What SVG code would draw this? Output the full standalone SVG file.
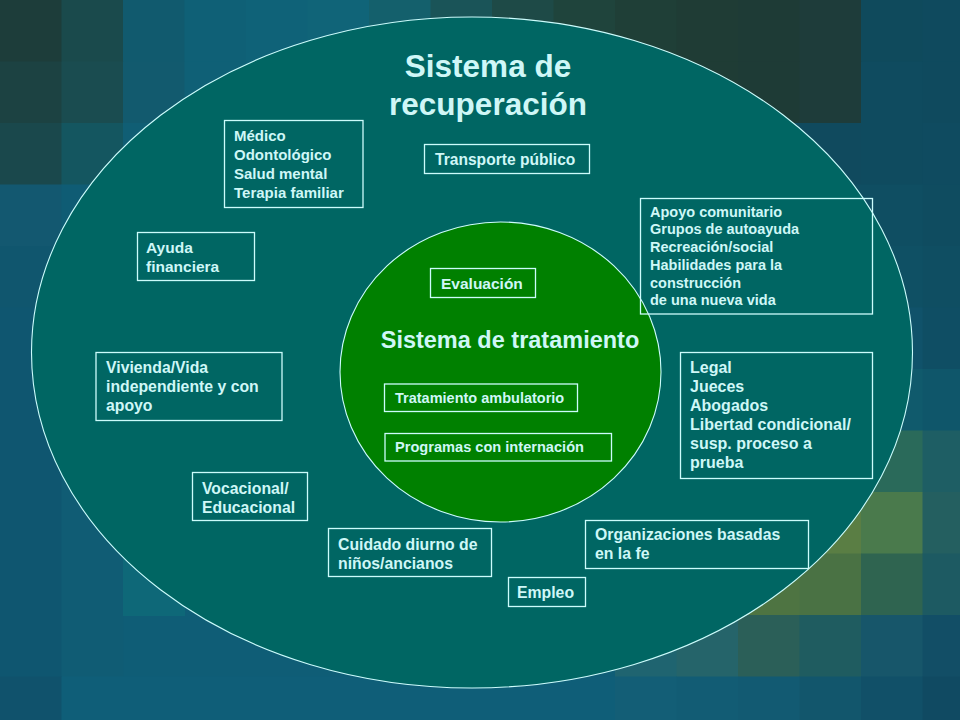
<svg xmlns="http://www.w3.org/2000/svg" width="960" height="720" viewBox="0 0 960 720">
<style>
.box{fill:none;stroke:#ccfcfc;stroke-width:1.3}
.t{font-family:"Liberation Sans",Arial,sans-serif;font-weight:bold;fill:#cff7f7}
.ring{stroke:#ccfcfc;stroke-width:1.1}
</style>
<g id="background">
<rect x="0" y="0" width="960" height="720" fill="#0f5d76"/>
<rect x="0" y="0" width="62" height="62" fill="#1d3d3a"/>
<rect x="61.5" y="0" width="62" height="62" fill="#1a4a4c"/>
<rect x="123" y="0" width="62" height="62" fill="#115a6e"/>
<rect x="184.5" y="0" width="62" height="62" fill="#0f6076"/>
<rect x="246" y="0" width="62" height="62" fill="#0f6278"/>
<rect x="307.5" y="0" width="62" height="62" fill="#106478"/>
<rect x="369" y="0" width="62" height="62" fill="#14606c"/>
<rect x="430.5" y="0" width="62" height="62" fill="#1a5458"/>
<rect x="492" y="0" width="62" height="62" fill="#1e4a47"/>
<rect x="553.5" y="0" width="62" height="62" fill="#1f443c"/>
<rect x="615" y="0" width="62" height="62" fill="#1f3f37"/>
<rect x="676.5" y="0" width="62" height="62" fill="#1f3c35"/>
<rect x="738" y="0" width="62" height="62" fill="#1e3b36"/>
<rect x="799.5" y="0" width="62" height="62" fill="#1e3c3a"/>
<rect x="861" y="0" width="62" height="62" fill="#0f4a5c"/>
<rect x="922.5" y="0" width="40" height="62" fill="#0f4a5e"/>
<rect x="0" y="61.5" width="62" height="62" fill="#1c4242"/>
<rect x="61.5" y="61.5" width="62" height="62" fill="#1a4c50"/>
<rect x="123" y="61.5" width="62" height="62" fill="#125a6e"/>
<rect x="184.5" y="61.5" width="62" height="62" fill="#0f6076"/>
<rect x="246" y="61.5" width="62" height="62" fill="#0f6278"/>
<rect x="307.5" y="61.5" width="62" height="62" fill="#106478"/>
<rect x="553.5" y="61.5" width="62" height="62" fill="#1f443c"/>
<rect x="615" y="61.5" width="62" height="62" fill="#1f3f37"/>
<rect x="676.5" y="61.5" width="62" height="62" fill="#1f3c35"/>
<rect x="738" y="61.5" width="62" height="62" fill="#1e3b36"/>
<rect x="799.5" y="61.5" width="62" height="62" fill="#1e3c3a"/>
<rect x="861" y="61.5" width="62" height="62" fill="#0f4b5f"/>
<rect x="922.5" y="61.5" width="40" height="62" fill="#0f4a5e"/>
<rect x="0" y="123" width="62" height="62" fill="#1a484c"/>
<rect x="61.5" y="123" width="62" height="62" fill="#145660"/>
<rect x="123" y="123" width="62" height="62" fill="#105e74"/>
<rect x="676.5" y="123" width="62" height="62" fill="#1e3c36"/>
<rect x="738" y="123" width="62" height="62" fill="#104a5e"/>
<rect x="799.5" y="123" width="62" height="62" fill="#104a5e"/>
<rect x="861" y="123" width="62" height="62" fill="#0f4b5f"/>
<rect x="922.5" y="123" width="40" height="62" fill="#0f4b60"/>
<rect x="0" y="184.5" width="62" height="62" fill="#135870"/>
<rect x="61.5" y="184.5" width="62" height="62" fill="#0f5c74"/>
<rect x="0" y="246" width="62" height="62" fill="#10566e"/>
<rect x="0" y="307.5" width="62" height="370" fill="#0f5670"/>
<rect x="61.5" y="307.5" width="62" height="370" fill="#105c74"/>
<rect x="123" y="492" width="62" height="124" fill="#0e6878"/>
<rect x="799.5" y="184.5" width="62" height="62" fill="#0f4e62"/>
<rect x="861" y="184.5" width="62" height="62" fill="#0f4e62"/>
<rect x="922.5" y="184.5" width="40" height="62" fill="#0f4c60"/>
<rect x="861" y="246" width="62" height="62" fill="#0f5064"/>
<rect x="922.5" y="246" width="40" height="62" fill="#0f4e62"/>
<rect x="861" y="307.5" width="62" height="62" fill="#10526a"/>
<rect x="922.5" y="307.5" width="40" height="62" fill="#0f4e64"/>
<rect x="861" y="369" width="62" height="62" fill="#105a6c"/>
<rect x="922.5" y="369" width="40" height="62" fill="#0f566a"/>
<rect x="799.5" y="430.5" width="62" height="62" fill="#2a6658"/>
<rect x="861" y="430.5" width="62" height="62" fill="#2a6a5a"/>
<rect x="922.5" y="430.5" width="40" height="62" fill="#1e5e64"/>
<rect x="738" y="492" width="62" height="62" fill="#4a7646"/>
<rect x="799.5" y="492" width="62" height="62" fill="#5a7e44"/>
<rect x="861" y="492" width="62" height="62" fill="#4a7a4c"/>
<rect x="922.5" y="492" width="40" height="62" fill="#245f60"/>
<rect x="676.5" y="553.5" width="62" height="62" fill="#2c6458"/>
<rect x="738" y="553.5" width="62" height="62" fill="#4e7442"/>
<rect x="799.5" y="553.5" width="62" height="62" fill="#4a7244"/>
<rect x="861" y="553.5" width="62" height="62" fill="#2f6450"/>
<rect x="922.5" y="553.5" width="40" height="62" fill="#1d5a62"/>
<rect x="615" y="615" width="62" height="62" fill="#1f6470"/>
<rect x="676.5" y="615" width="62" height="62" fill="#25646a"/>
<rect x="738" y="615" width="62" height="62" fill="#2b5f58"/>
<rect x="799.5" y="615" width="62" height="62" fill="#1f5c60"/>
<rect x="861" y="615" width="62" height="62" fill="#17566a"/>
<rect x="922.5" y="615" width="40" height="62" fill="#124e66"/>
<rect x="0" y="676.5" width="62" height="45" fill="#10526c"/>
<rect x="61.5" y="676.5" width="553.5" height="45" fill="#0f5e78"/>
<rect x="615" y="676.5" width="62" height="45" fill="#135e76"/>
<rect x="676.5" y="676.5" width="62" height="45" fill="#125c74"/>
<rect x="738" y="676.5" width="62" height="45" fill="#125a72"/>
<rect x="799.5" y="676.5" width="62" height="45" fill="#12566c"/>
<rect x="861" y="676.5" width="62" height="45" fill="#115068"/>
<rect x="922.5" y="676.5" width="40" height="45" fill="#104a62"/>
</g>
<g id="recovery-system">
<ellipse class="ring" cx="472" cy="352.5" rx="440.5" ry="335.5" fill="#006663"/>
<text class="t" font-size="31.5" text-anchor="middle"><tspan x="488" y="77">Sistema de</tspan><tspan x="488" y="115">recuperación</tspan></text>
</g>
<g id="treatment-system">
<ellipse class="ring" cx="500.5" cy="372" rx="160.5" ry="150" fill="#008000"/>
<text class="t" font-size="23.5" x="510" y="347.5" text-anchor="middle">Sistema de tratamiento</text>
</g>
<g id="connectors"></g>
<g id="node-medico">
<rect class="box" x="224.5" y="120.5" width="138.5" height="87"/>
<text class="t" font-size="15"><tspan x="234" y="140.5">Médico</tspan><tspan x="234" y="159.8">Odontológico</tspan><tspan x="234" y="179.1">Salud mental</tspan><tspan x="234" y="198.4">Terapia familiar</tspan></text>
</g>
<g id="node-transporte">
<rect class="box" x="424.5" y="144.5" width="165" height="29"/>
<text class="t" font-size="15.6" x="435" y="165">Transporte público</text>
</g>
<g id="node-ayuda">
<rect class="box" x="137.5" y="232.5" width="117" height="48"/>
<text class="t" font-size="15.5"><tspan x="146" y="253">Ayuda</tspan><tspan x="146" y="271.7">financiera</tspan></text>
</g>
<g id="node-vivienda">
<rect class="box" x="96" y="352.5" width="186" height="68"/>
<text class="t" font-size="15.8"><tspan x="106" y="372.5">Vivienda/Vida</tspan><tspan x="106" y="391.5">independiente y con</tspan><tspan x="106" y="410.5">apoyo</tspan></text>
</g>
<g id="node-vocacional">
<rect class="box" x="192.5" y="472.5" width="115" height="48"/>
<text class="t" font-size="15.8"><tspan x="202" y="493.5">Vocacional/</tspan><tspan x="202" y="512.5">Educacional</tspan></text>
</g>
<g id="node-cuidado">
<rect class="box" x="328.5" y="528.5" width="163" height="48"/>
<text class="t" font-size="15.8"><tspan x="338" y="549.5">Cuidado diurno de</tspan><tspan x="338" y="568.5">niños/ancianos</tspan></text>
</g>
<g id="node-empleo">
<rect class="box" x="508.5" y="577.5" width="77" height="29"/>
<text class="t" font-size="15.8" x="517" y="597.5">Empleo</text>
</g>
<g id="node-organizaciones">
<rect class="box" x="585.5" y="520.5" width="223" height="48"/>
<text class="t" font-size="15.8"><tspan x="595" y="540">Organizaciones basadas</tspan><tspan x="595" y="559">en la fe</tspan></text>
</g>
<g id="node-apoyo">
<rect class="box" x="640.5" y="198.5" width="232" height="115.5"/>
<text class="t" font-size="14.5"><tspan x="650" y="216.7">Apoyo comunitario</tspan><tspan x="650" y="234.4">Grupos de autoayuda</tspan><tspan x="650" y="252.1">Recreación/social</tspan><tspan x="650" y="269.8">Habilidades para la</tspan><tspan x="650" y="287.5">construcción</tspan><tspan x="650" y="305.2">de una nueva vida</tspan></text>
</g>
<g id="node-legal">
<rect class="box" x="680.5" y="352.5" width="192" height="126"/>
<text class="t" font-size="16"><tspan x="690" y="373.3">Legal</tspan><tspan x="690" y="392.3">Jueces</tspan><tspan x="690" y="411.3">Abogados</tspan><tspan x="690" y="430.3">Libertad condicional/</tspan><tspan x="690" y="449.3">susp. proceso a</tspan><tspan x="690" y="468.3">prueba</tspan></text>
</g>
<g id="node-evaluacion">
<rect class="box" x="430.5" y="268.5" width="105" height="29"/>
<text class="t" font-size="15.5" x="441" y="288.5">Evaluación</text>
</g>
<g id="node-ambulatorio">
<rect class="box" x="384.5" y="384" width="193" height="27.5"/>
<text class="t" font-size="14.5" x="395" y="402.7">Tratamiento ambulatorio</text>
</g>
<g id="node-internacion">
<rect class="box" x="385" y="433.5" width="226.5" height="27.5"/>
<text class="t" font-size="14.6" x="395" y="451.7">Programas con internación</text>
</g>
</svg>
